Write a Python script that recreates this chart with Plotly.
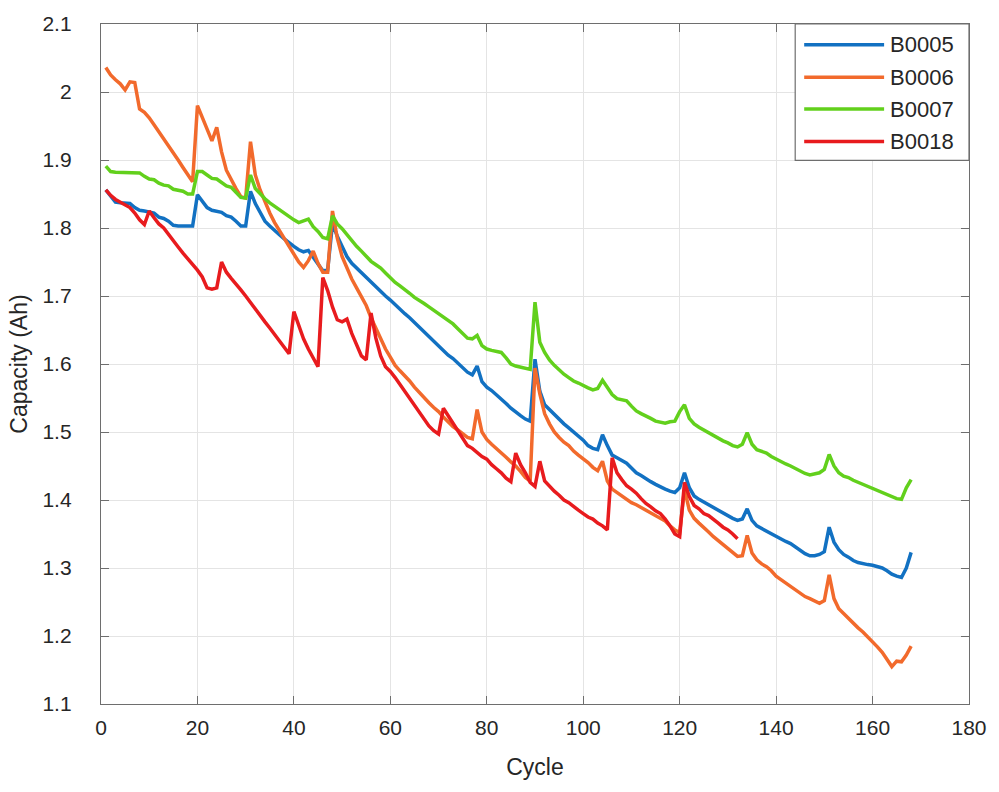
import plotly.graph_objects as go

# Discharge capacity per cycle (Ah) for each NASA battery cell
b0005 = [
    1.856, 1.846, 1.838, 1.837, 1.837, 1.836, 1.830, 1.826, 1.825, 1.823,
    1.822, 1.816, 1.814, 1.810, 1.804, 1.803, 1.803, 1.803, 1.803, 1.849,
    1.840, 1.830, 1.826, 1.824, 1.823, 1.818, 1.816, 1.810, 1.803, 1.803,
    1.854, 1.836, 1.822, 1.810, 1.803, 1.796, 1.790, 1.784, 1.778, 1.773,
    1.768, 1.765, 1.767, 1.757, 1.748, 1.737, 1.738, 1.806, 1.788, 1.772,
    1.758, 1.748, 1.741, 1.735, 1.728, 1.721, 1.714, 1.706, 1.700, 1.694,
    1.687, 1.680, 1.674, 1.668, 1.661, 1.655, 1.648, 1.641, 1.634, 1.627,
    1.620, 1.613, 1.608, 1.601, 1.595, 1.588, 1.584, 1.597, 1.574, 1.566,
    1.561, 1.555, 1.549, 1.542, 1.535, 1.529, 1.524, 1.519, 1.516, 1.607,
    1.560, 1.540, 1.533, 1.525, 1.518, 1.512, 1.506, 1.500, 1.494, 1.488,
    1.480, 1.476, 1.474, 1.496, 1.480, 1.466, 1.462, 1.458, 1.454, 1.447,
    1.440, 1.436, 1.431, 1.427, 1.423, 1.419, 1.416, 1.413, 1.411, 1.418,
    1.440, 1.418, 1.406, 1.401, 1.397, 1.392, 1.388, 1.385, 1.381, 1.377,
    1.373, 1.370, 1.372, 1.387, 1.370, 1.362, 1.358, 1.355, 1.350, 1.346,
    1.342, 1.339, 1.336, 1.331, 1.326, 1.321, 1.318, 1.318, 1.320, 1.324,
    1.360, 1.338, 1.327, 1.320, 1.316, 1.311, 1.308, 1.306, 1.305, 1.304,
    1.302, 1.300, 1.296, 1.291, 1.288, 1.286, 1.300, 1.323,
]

b0006 = [
    2.036, 2.025, 2.018, 2.012, 2.003, 2.015, 2.014, 1.975, 1.970, 1.962,
    1.952, 1.942, 1.931, 1.921, 1.910, 1.900, 1.889, 1.878, 1.868, 1.980,
    1.962, 1.944, 1.928, 1.948, 1.912, 1.885, 1.870, 1.858, 1.846, 1.844,
    1.927, 1.878, 1.856, 1.838, 1.822, 1.808, 1.796, 1.786, 1.774, 1.762,
    1.750, 1.742, 1.752, 1.766, 1.748, 1.735, 1.735, 1.825, 1.785, 1.758,
    1.740, 1.725, 1.712, 1.700, 1.686, 1.668, 1.652, 1.637, 1.622, 1.610,
    1.598, 1.590, 1.583, 1.575, 1.566, 1.558, 1.550, 1.543, 1.536, 1.530,
    1.522, 1.515, 1.508, 1.503, 1.498, 1.492, 1.490, 1.533, 1.500, 1.489,
    1.482, 1.476, 1.470, 1.463, 1.456, 1.450, 1.442, 1.433, 1.428, 1.594,
    1.556, 1.527, 1.512, 1.500, 1.492, 1.485, 1.480, 1.472, 1.466, 1.461,
    1.455, 1.448, 1.443, 1.457, 1.428, 1.416, 1.411, 1.405, 1.400, 1.396,
    1.393, 1.389, 1.385, 1.381, 1.378, 1.374, 1.369, 1.362, 1.356, 1.352,
    1.416, 1.385, 1.373, 1.366, 1.360, 1.353, 1.346, 1.340, 1.334, 1.328,
    1.322, 1.317, 1.318, 1.348, 1.322, 1.312, 1.306, 1.302, 1.296, 1.288,
    1.283, 1.278, 1.272, 1.267, 1.262, 1.258, 1.255, 1.251, 1.248, 1.252,
    1.290, 1.255, 1.240, 1.233, 1.226, 1.218, 1.212, 1.206, 1.199, 1.191,
    1.184, 1.176, 1.165, 1.155, 1.163, 1.162, 1.172, 1.185,
]

b0007 = [
    1.891, 1.883, 1.882, 1.882, 1.882, 1.882, 1.882, 1.881, 1.876, 1.872,
    1.871, 1.866, 1.863, 1.862, 1.857, 1.855, 1.854, 1.850, 1.850, 1.883,
    1.883, 1.878, 1.873, 1.872, 1.867, 1.862, 1.860, 1.853, 1.845, 1.844,
    1.878, 1.858, 1.850, 1.843, 1.837, 1.832, 1.826, 1.821, 1.817, 1.812,
    1.808, 1.811, 1.813, 1.802, 1.795, 1.786, 1.784, 1.818, 1.806, 1.799,
    1.790, 1.781, 1.773, 1.766, 1.758, 1.751, 1.746, 1.741, 1.734, 1.727,
    1.720, 1.715, 1.710, 1.704, 1.698, 1.694, 1.689, 1.684, 1.679, 1.673,
    1.668, 1.663, 1.659, 1.652, 1.645, 1.638, 1.637, 1.642, 1.627, 1.622,
    1.620, 1.619, 1.617, 1.609, 1.600, 1.597, 1.595, 1.594, 1.592, 1.691,
    1.632, 1.617, 1.606, 1.598, 1.591, 1.585, 1.580, 1.575, 1.572, 1.568,
    1.565, 1.562, 1.564, 1.576, 1.566, 1.555, 1.549, 1.547, 1.546, 1.538,
    1.531, 1.527, 1.524, 1.520, 1.516, 1.514, 1.513, 1.515, 1.516, 1.530,
    1.540, 1.520, 1.512, 1.507, 1.503, 1.498, 1.495, 1.491, 1.487, 1.484,
    1.480, 1.478, 1.482, 1.499, 1.482, 1.474, 1.471, 1.469, 1.464, 1.460,
    1.457, 1.453, 1.450, 1.446, 1.442, 1.439, 1.437, 1.438, 1.440, 1.445,
    1.467, 1.450, 1.440, 1.435, 1.433, 1.429, 1.426, 1.424, 1.421, 1.418,
    1.415, 1.411, 1.408, 1.405, 1.402, 1.401, 1.418, 1.430,
]

b0018 = [
    1.856, 1.848, 1.842, 1.838, 1.834, 1.830, 1.822, 1.812, 1.805, 1.825,
    1.815, 1.806, 1.800, 1.790, 1.780, 1.772, 1.763, 1.755, 1.746, 1.738,
    1.728, 1.712, 1.710, 1.712, 1.750, 1.735, 1.726, 1.718, 1.709, 1.700,
    1.690, 1.681, 1.672, 1.662, 1.653, 1.643, 1.634, 1.624, 1.615, 1.677,
    1.656, 1.637, 1.622, 1.610, 1.596, 1.727, 1.708, 1.684, 1.665, 1.662,
    1.666, 1.645, 1.628, 1.612, 1.606, 1.675, 1.638, 1.612, 1.596, 1.589,
    1.580, 1.570, 1.560, 1.549, 1.538, 1.530, 1.519, 1.509, 1.502, 1.497,
    1.535, 1.524, 1.513, 1.502, 1.490, 1.480, 1.476, 1.470, 1.464, 1.460,
    1.452, 1.446, 1.440, 1.432, 1.427, 1.469, 1.452, 1.440, 1.426, 1.420,
    1.457, 1.428, 1.420, 1.413, 1.407, 1.400, 1.396, 1.390, 1.385, 1.380,
    1.375, 1.372, 1.366, 1.362, 1.356, 1.462, 1.440, 1.430, 1.421, 1.416,
    1.410, 1.402, 1.395, 1.390, 1.384, 1.380, 1.372, 1.362, 1.350, 1.346,
    1.426, 1.405, 1.392, 1.387, 1.380, 1.377, 1.372, 1.366, 1.360, 1.356,
    1.350, 1.343,
]

names = ["B0005", "B0006", "B0007", "B0018"]
series = [b0005, b0006, b0007, b0018]
colors = ["#1271C2", "#F26A2C", "#62D01C", "#E81B1E"]

x_tickvals = [0, 20, 40, 60, 80, 100, 120, 140, 160, 180]
y_tickvals = [1.1, 1.2, 1.3, 1.4, 1.5, 1.6, 1.7, 1.8, 1.9, 2.0, 2.1]
y_ticktext = ["1.1", "1.2", "1.3", "1.4", "1.5", "1.6", "1.7", "1.8", "1.9", "2", "2.1"]

FONT = "Liberation Sans, Arial, sans-serif"
TEXT = "#262626"
LINE_W = 3.5

fig = go.Figure()
for name, vals, col in zip(names, series, colors):
    fig.add_trace(go.Scatter(
        x=list(range(1, len(vals) + 1)), y=vals, mode="lines", name=name,
        line=dict(color=col, width=LINE_W), showlegend=False,
    ))

axis_common = dict(
    showgrid=True, gridcolor="#E4E4E4", gridwidth=1,
    showline=True, linecolor="#6E6E6E", linewidth=1.3, mirror="ticks",
    ticks="inside", ticklen=8, tickcolor="#6E6E6E", tickwidth=1,
    zeroline=False, tickfont=dict(family=FONT, size=21, color=TEXT),
)

fig.update_xaxes(
    range=[0, 180], tickvals=x_tickvals, ticklabelstandoff=5,
    title=dict(text="Cycle", font=dict(family=FONT, size=23, color=TEXT), standoff=20),
    **axis_common,
)
fig.update_yaxes(
    range=[1.1, 2.1], tickvals=y_tickvals, ticktext=y_ticktext, ticklabelstandoff=24,
    title=dict(text="Capacity (Ah)", font=dict(family=FONT, size=23, color=TEXT), standoff=8),
    **axis_common,
)

# Boxed legend drawn in paper coordinates (top-right corner of the axes)
L, T, R, B = 796, 16, 970, 154
W, H = 999, 792
ml, mr, mt, mb = 101, 29, 16, 88
pw, ph = W - ml - mr, H - mt - mb


def px(xp):
    return (xp - ml) / pw


def py(yp):
    return 1 - (yp - mt) / ph


shapes = [dict(type="rect", xref="paper", yref="paper",
               x0=px(L), x1=px(R), y0=py(B), y1=py(T),
               line=dict(color="#6E6E6E", width=1.2), fillcolor="white", layer="above")]
annotations = []
row_y = [37, 70, 102, 135]
for name, col, yy in zip(names, colors, row_y):
    shapes.append(dict(type="line", xref="paper", yref="paper",
                       x0=px(805), x1=px(885), y0=py(yy), y1=py(yy),
                       line=dict(color=col, width=LINE_W), layer="above"))
    annotations.append(dict(x=px(889), y=py(yy), xref="paper", yref="paper",
                            text=name, showarrow=False, xanchor="left", yanchor="middle",
                            font=dict(family=FONT, size=22, color=TEXT)))

fig.update_layout(
    width=W, height=H,
    margin=dict(l=ml, r=mr, t=mt, b=mb),
    plot_bgcolor="white", paper_bgcolor="white",
    shapes=shapes, annotations=annotations,
)

fig.write_html("out.html")
